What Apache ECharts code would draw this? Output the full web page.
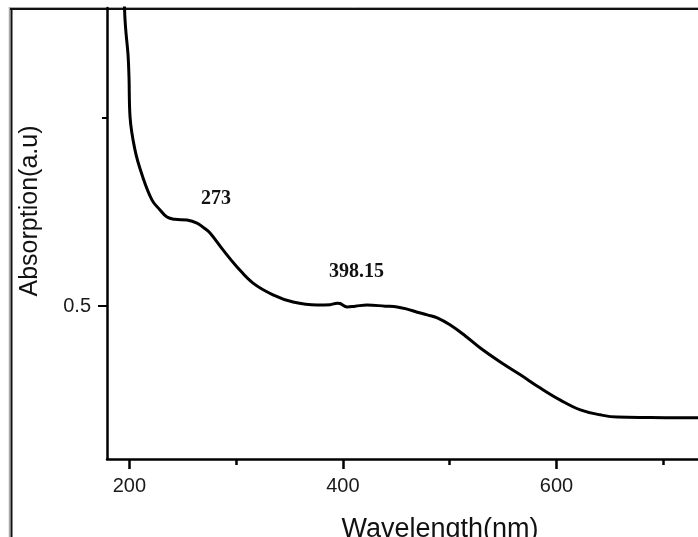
<!DOCTYPE html>
<html>
<head>
<meta charset="utf-8">
<script src="https://cdn.jsdelivr.net/npm/echarts@6/dist/echarts.min.js"></script>
<style>
  html, body { margin: 0; padding: 0; background: #fff; }
  #chart { width: 698px; height: 537px; }
</style>
</head>
<body>
<div id="chart"></div>
<script>
// ---- data ----
var wavelength = [194.9, 195.4, 195.9, 196.8, 198.7, 199.6, 200.6, 205.2, 211.8, 221.2, 228.7, 235.2, 242.7, 254.0, 263.3, 269.9, 275.5, 287.7, 300.8, 315.8, 334.5, 353.3, 375.8, 388.0, 394.6, 397.3, 403.9, 411.5, 422.7, 439.6, 450.8, 460.2, 469.6, 479.0, 488.4, 500.6, 514.7, 528.7, 547.4, 566.2, 584.9, 603.7, 622.4, 641.1, 657.1, 688.0, 732.0, 745.0];
var absorption = [1.338, 1.290, 1.258, 1.224, 1.166, 1.107, 1.001, 0.914, 0.848, 0.781, 0.755, 0.736, 0.730, 0.728, 0.720, 0.707, 0.694, 0.649, 0.604, 0.561, 0.530, 0.511, 0.503, 0.504, 0.508, 0.507, 0.498, 0.500, 0.503, 0.500, 0.498, 0.492, 0.484, 0.477, 0.469, 0.450, 0.421, 0.389, 0.352, 0.318, 0.283, 0.251, 0.225, 0.212, 0.206, 0.205, 0.204, 0.204];

var xMajorTicks = [200, 400, 600];
var xMinorTicks = [300, 500, 700];
var yLabelTicks = [0.5];
var yMinorTicks = [1.0];

var peakLabels = ['273', '398.15'];
var peakLabelX = [281.1, 412.7];
var peakLabelY = [0.784, 0.590];

var xTitle = 'Wavelength(nm)';
var yTitle = 'Absorption(a.u)';

// ---- chart ----
var chart = echarts.init(document.getElementById('chart'), null, { renderer: 'canvas' });

var seriesData = wavelength.map(function (w, i) { return [w, absorption[i]]; });
var markData = peakLabels.map(function (t, i) {
  return { name: t, coord: [peakLabelX[i], peakLabelY[i]] };
});

var X_MIN = 179, X_MAX = 732.6, Y_MIN = 0.095, Y_MAX = 1.29;

var option = {
  animation: false,
  backgroundColor: '#ffffff',
  grid: { left: 107, right: 0, top: 8, bottom: 78, containLabel: false },
  xAxis: [
    {
      type: 'value', min: X_MIN, max: X_MAX, position: 'bottom',
      axisLine: { show: true, onZero: false, lineStyle: { color: '#000', width: 2.5 } },
      axisTick: { show: true, customValues: xMajorTicks, length: 10, inside: false, lineStyle: { color: '#000', width: 2.5 } },
      axisLabel: { show: true, customValues: xMajorTicks, margin: 17, fontFamily: 'Liberation Sans', fontSize: 20, color: '#1a1a1a' },
      splitLine: { show: false }
    },
    {
      type: 'value', min: X_MIN, max: X_MAX, position: 'bottom',
      axisLine: { show: false },
      axisTick: { show: true, customValues: xMinorTicks, length: 6, inside: false, lineStyle: { color: '#000', width: 2.5 } },
      axisLabel: { show: false },
      splitLine: { show: false }
    }
  ],
  yAxis: [
    {
      type: 'value', min: Y_MIN, max: Y_MAX, position: 'left',
      axisLine: { show: true, onZero: false, lineStyle: { color: '#000', width: 2.5 } },
      axisTick: { show: true, customValues: yLabelTicks, length: 9, lineStyle: { color: '#000', width: 2 } },
      axisLabel: { show: true, customValues: yLabelTicks, margin: 16, fontFamily: 'Liberation Sans', fontSize: 20, color: '#1a1a1a',
        formatter: function (v) { return String(v); } },
      splitLine: { show: false }
    },
    {
      type: 'value', min: Y_MIN, max: Y_MAX, position: 'left',
      axisLine: { show: false },
      axisTick: { show: true, customValues: yMinorTicks, length: 5, lineStyle: { color: '#000', width: 2 } },
      axisLabel: { show: false },
      splitLine: { show: false }
    }
  ],
  series: [{
    type: 'line',
    data: seriesData,
    xAxisIndex: 0, yAxisIndex: 0,
    showSymbol: false,
    smooth: 0.4,
    clip: true,
    lineStyle: { color: '#000', width: 3, join: 'round', cap: 'round' },
    markPoint: {
      symbol: 'circle', symbolSize: 1,
      itemStyle: { color: 'rgba(0,0,0,0)' },
      label: { show: true, position: 'inside', formatter: '{b}', fontFamily: 'Liberation Serif', fontWeight: 'bold', fontSize: 20, color: '#111' },
      data: markData
    }
  }],
  graphic: [
    // image frame
    { type: 'line', shape: { x1: 9.5, y1: 7, x2: 9.5, y2: 537 }, style: { stroke: '#aaa', lineWidth: 1.5 }, silent: true },
    { type: 'line', shape: { x1: 11.5, y1: 8, x2: 11.5, y2: 537 }, style: { stroke: '#111', lineWidth: 2 }, silent: true },
    { type: 'line', shape: { x1: 9, y1: 7.5, x2: 698, y2: 7.5 }, style: { stroke: '#aaa', lineWidth: 1 }, silent: true },
    { type: 'line', shape: { x1: 10, y1: 9, x2: 698, y2: 9 }, style: { stroke: '#111', lineWidth: 2 }, silent: true },
    // axis titles
    { type: 'text', x: 440, y: 543, style: { text: xTitle, font: '27px "Liberation Sans"', fill: '#111', textAlign: 'center', textVerticalAlign: 'bottom' }, silent: true },
    { type: 'text', x: 30, y: 211, rotation: Math.PI / 2, style: { text: yTitle, font: '25px "Liberation Sans"', fill: '#111', textAlign: 'center', textVerticalAlign: 'middle' }, silent: true }
  ]
};
chart.setOption(option);
</script>
</body>
</html>
